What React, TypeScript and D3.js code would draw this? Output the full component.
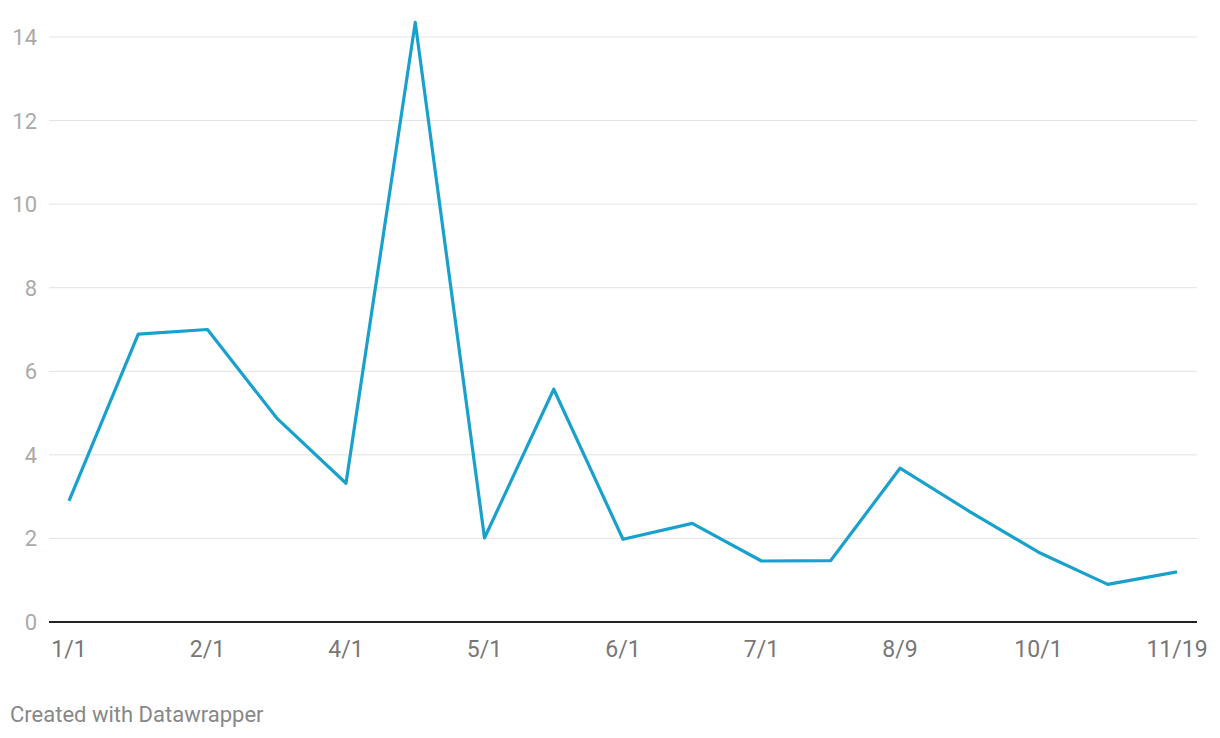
import { useEffect, useRef } from "react"
import * as d3 from "d3"

// values, one per step (labels only every other step)
const values = [2.9, 6.89, 7.0, 4.88, 3.32, 14.35, 2.01, 5.57, 1.98, 2.36, 1.46, 1.47, 3.68, 2.65, 1.67, 0.9, 1.2]
const tickLabels = ["1/1", "2/1", "4/1", "5/1", "6/1", "7/1", "8/9", "10/1", "11/19"]
const yTicks = [0, 2, 4, 6, 8, 10, 12, 14]

export default function App() {
  const svgRef = useRef<SVGSVGElement>(null)

  useEffect(() => {
    document.body.style.margin = "0"
    if (!svgRef.current) return
    const svg = d3.select(svgRef.current)
    svg.selectAll("*").remove()

    const font = "Roboto, 'Noto Sans', sans-serif"

    const x = d3.scaleLinear().domain([0, values.length - 1]).range([69, 1177])
    const y = d3.scaleLinear().domain([0, 14]).range([622, 37])

    // gridlines
    svg.append("g")
      .selectAll("line")
      .data(yTicks.filter((d) => d > 0))
      .join("line")
      .attr("x1", 49)
      .attr("x2", 1197)
      .attr("y1", (d) => y(d))
      .attr("y2", (d) => y(d))
      .attr("stroke", "#e3e3e3")
      .attr("stroke-width", 1)

    // y labels
    svg.append("g")
      .selectAll("text")
      .data(yTicks)
      .join("text")
      .attr("x", 37)
      .attr("y", (d) => y(d) + 8)
      .attr("text-anchor", "end")
      .attr("font-family", font)
      .attr("font-size", 22)
      .attr("fill", "#aaaaaa")
      .text((d) => d)

    // baseline
    svg.append("line")
      .attr("x1", 49)
      .attr("x2", 1197)
      .attr("y1", y(0))
      .attr("y2", y(0))
      .attr("stroke", "#222")
      .attr("stroke-width", 2)

    // x labels
    svg.append("g")
      .selectAll("text")
      .data(tickLabels)
      .join("text")
      .attr("x", (d, i) => x(i * 2))
      .attr("y", 657)
      .attr("text-anchor", "middle")
      .attr("font-family", font)
      .attr("font-size", 23)
      .attr("fill", "#777")
      .text((d) => d)

    const line = d3.line<number>()
      .x((d, i) => x(i))
      .y((d) => y(d))

    svg.append("path")
      .datum(values)
      .attr("d", line)
      .attr("fill", "none")
      .attr("stroke", "#18a1cd")
      .attr("stroke-width", 3.2)
      .attr("stroke-linejoin", "round")

    svg.append("text")
      .attr("x", 10)
      .attr("y", 722)
      .attr("font-family", font)
      .attr("font-size", 22)
      .attr("fill", "#888")
      .text("Created with Datawrapper")
  }, [])

  return <svg ref={svgRef} width={1220} height={738} style={{ display: "block", background: "#fff" }} />
}
